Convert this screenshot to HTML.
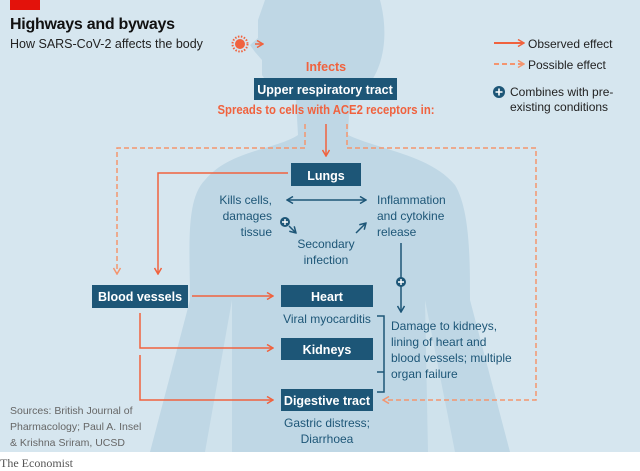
<!DOCTYPE html>
<html><head><meta charset="utf-8"><style>
body{margin:0;width:640px;height:471px;overflow:hidden;background:#fff}
svg{display:block}
text{font-family:"Liberation Sans",sans-serif}
</style></head><body>
<svg width="640" height="471" viewBox="0 0 640 471" xmlns="http://www.w3.org/2000/svg">
<defs>
<marker id="ao" markerWidth="8" markerHeight="8" refX="7" refY="4" orient="auto" markerUnits="userSpaceOnUse"><path d="M1,0.5 L7,4 L1,7.5" fill="none" stroke="#f0623e" stroke-width="1.5"/></marker>
<marker id="ad" markerWidth="8" markerHeight="8" refX="7" refY="4" orient="auto" markerUnits="userSpaceOnUse"><path d="M1,0.5 L7,4 L1,7.5" fill="none" stroke="#f4956f" stroke-width="1.5"/></marker>
<marker id="ab" markerWidth="8" markerHeight="8" refX="7" refY="4" orient="auto" markerUnits="userSpaceOnUse"><path d="M1,0.5 L7,4 L1,7.5" fill="none" stroke="#1d5677" stroke-width="1.5"/></marker>
<marker id="abs" markerWidth="8" markerHeight="8" refX="1" refY="4" orient="auto" markerUnits="userSpaceOnUse"><path d="M7,0.5 L1,4 L7,7.5" fill="none" stroke="#1d5677" stroke-width="1.5"/></marker>
</defs>
<rect width="640" height="452" fill="#d6e6ef"/>
<path d="M265,0 L380,0 C388,30 385,60 372,80 L350,95 L348,135 C380,150 430,155 455,185 C470,210 470,260 470,300 L510,452 L150,452 L190,300 C190,250 185,200 205,180 C230,150 275,150 298,135 L296,100 C285,92 270,88 262,75 L262,60 L255,52 L250,45 L258,38 L258,20 Z" fill="#bfd7e5"/>
<path d="M232,300 L205,452 L232,452 Z" fill="#cfe2ec"/>
<path d="M425,300 L455,452 L428,452 Z" fill="#cfe2ec"/>
<rect x="10" y="0" width="30" height="10" fill="#e3120b"/>
<text x="10" y="29" font-size="16" font-weight="bold" fill="#111" textLength="165">Highways and byways</text>
<text x="10" y="48" font-size="12.5" fill="#222">How SARS-CoV-2 affects the body</text>
<circle cx="240" cy="44" r="5" fill="#f0623e"/>
<circle cx="240" cy="44" r="7.5" fill="none" stroke="#f0623e" stroke-width="2" stroke-dasharray="1.5 1.5"/>
<line x1="255" y1="44" x2="263" y2="44" stroke="#f0623e" stroke-width="1.5" marker-end="url(#ao)"/>
<line x1="494" y1="43" x2="524" y2="43" stroke="#f0623e" stroke-width="2" marker-end="url(#ao)"/>
<text x="528" y="48" font-size="12" fill="#222">Observed effect</text>
<line x1="494" y1="64" x2="524" y2="64" stroke="#f4956f" stroke-width="2" stroke-dasharray="5 3" marker-end="url(#ad)"/>
<text x="528" y="69" font-size="12" fill="#222">Possible effect</text>
<circle cx="499" cy="92" r="6" fill="#1d5677"/><path d="M499,88.5v7M495.5,92h7" stroke="#fff" stroke-width="1.6"/>
<text x="510" y="96" font-size="12" fill="#222">Combines with pre-</text>
<text x="510" y="111" font-size="12" fill="#222">existing conditions</text>
<text x="326" y="71" font-size="12.5" font-weight="bold" fill="#f0623e" text-anchor="middle">Infects</text>
<rect x="254" y="78" width="143" height="22" fill="#1d5677"/>
<text x="325" y="94" font-size="12.5" font-weight="bold" fill="#fff" text-anchor="middle">Upper respiratory tract</text>
<text x="326" y="114" font-size="12.5" font-weight="bold" fill="#f0623e" text-anchor="middle" textLength="217" lengthAdjust="spacingAndGlyphs">Spreads to cells with ACE2 receptors in:</text>
<line x1="326" y1="124" x2="326" y2="156" stroke="#f0623e" stroke-width="1.5" marker-end="url(#ao)"/>
<path d="M305,124 V148 H117 V274" fill="none" stroke="#f4956f" stroke-width="1.5" stroke-dasharray="5 3" marker-end="url(#ad)"/>
<path d="M347,124 V148 H536 V400 H383" fill="none" stroke="#f4956f" stroke-width="1.5" stroke-dasharray="5 3" marker-end="url(#ad)"/>
<rect x="291" y="163" width="70" height="23" fill="#1d5677"/>
<text x="326" y="180" font-size="12.5" font-weight="bold" fill="#fff" text-anchor="middle">Lungs</text>
<path d="M288,173 H158 V274" fill="none" stroke="#f0623e" stroke-width="1.5" marker-end="url(#ao)"/>
<g font-size="12" fill="#1d5677">
<text x="272" y="204" text-anchor="end">Kills cells,</text>
<text x="272" y="220" text-anchor="end">damages</text>
<text x="272" y="236" text-anchor="end">tissue</text>
<text x="377" y="204">Inflammation</text>
<text x="377" y="220">and cytokine</text>
<text x="377" y="236">release</text>
<text x="326" y="248" text-anchor="middle">Secondary</text>
<text x="326" y="264" text-anchor="middle">infection</text>
</g>
<line x1="287" y1="200" x2="366" y2="200" stroke="#1d5677" stroke-width="1.5" marker-start="url(#abs)" marker-end="url(#ab)"/>
<circle cx="285" cy="222" r="5" fill="#1d5677"/><path d="M285,219v6M282,222h6" stroke="#fff" stroke-width="1.4"/>
<line x1="289" y1="226" x2="296" y2="233" stroke="#1d5677" stroke-width="1.5" marker-end="url(#ab)"/>
<line x1="356" y1="233" x2="366" y2="223" stroke="#1d5677" stroke-width="1.5" marker-end="url(#ab)"/>
<line x1="401" y1="243" x2="401" y2="312" stroke="#1d5677" stroke-width="1.5" marker-end="url(#ab)"/>
<circle cx="401" cy="282" r="5" fill="#1d5677"/><path d="M401,279v6M398,282h6" stroke="#fff" stroke-width="1.4"/>
<rect x="92" y="285" width="96" height="23" fill="#1d5677"/>
<text x="140" y="301" font-size="12.5" font-weight="bold" fill="#fff" text-anchor="middle">Blood vessels</text>
<line x1="192" y1="296" x2="273" y2="296" stroke="#f0623e" stroke-width="1.5" marker-end="url(#ao)"/>
<path d="M140,313 V348 H273" fill="none" stroke="#f0623e" stroke-width="1.5" marker-end="url(#ao)"/>
<path d="M140,355 V400 H273" fill="none" stroke="#f0623e" stroke-width="1.5" marker-end="url(#ao)"/>
<rect x="281" y="285" width="92" height="22" fill="#1d5677"/>
<text x="327" y="301" font-size="12.5" font-weight="bold" fill="#fff" text-anchor="middle">Heart</text>
<text x="327" y="323" font-size="12" fill="#1d5677" text-anchor="middle">Viral myocarditis</text>
<rect x="281" y="338" width="92" height="22" fill="#1d5677"/>
<text x="327" y="354" font-size="12.5" font-weight="bold" fill="#fff" text-anchor="middle">Kidneys</text>
<rect x="281" y="389" width="92" height="22" fill="#1d5677"/>
<text x="327" y="405" font-size="12.5" font-weight="bold" fill="#fff" text-anchor="middle">Digestive tract</text>
<text x="327" y="427" font-size="12" fill="#1d5677" text-anchor="middle">Gastric distress;</text>
<text x="327" y="443" font-size="12" fill="#1d5677" text-anchor="middle">Diarrhoea</text>
<path d="M377,316 H384 V392 H377 M384,372 H377" fill="none" stroke="#1d5677" stroke-width="1.5"/>
<g font-size="12" fill="#1d5677">
<text x="391" y="330">Damage to kidneys,</text>
<text x="391" y="346">lining of heart and</text>
<text x="391" y="362">blood vessels; multiple</text>
<text x="391" y="378">organ failure</text>
</g>
<g font-size="10.5" fill="#666">
<text x="10" y="414">Sources: British Journal of</text>
<text x="10" y="430">Pharmacology; Paul A. Insel</text>
<text x="10" y="446">&amp; Krishna Sriram, UCSD</text>
</g>
<text x="0" y="467" font-size="12" fill="#555" style="font-family:'Liberation Serif',serif">The Economist</text>
</svg>
</body></html>
